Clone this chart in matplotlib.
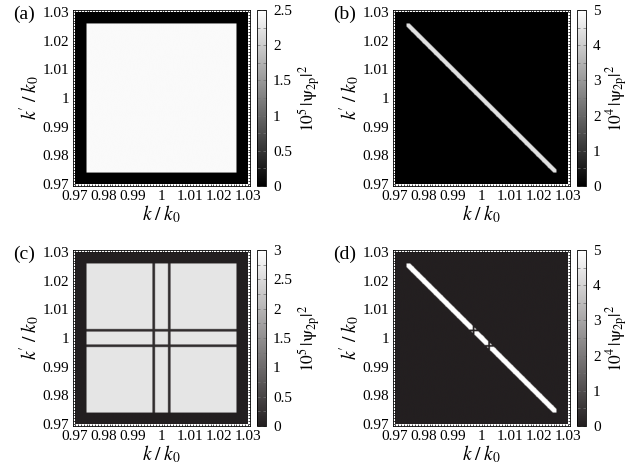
import numpy as np
import matplotlib
matplotlib.use('Agg')
import matplotlib.pyplot as plt
from matplotlib.colors import LinearSegmentedColormap
from matplotlib.ticker import MultipleLocator, FormatStrFormatter

matplotlib.rc('font', family='serif', serif=['Liberation Serif'], size=10)
matplotlib.rc('mathtext', fontset='stix')

# axis range (k / k0) and tick values
k_min, k_max = 0.97, 1.03
k_ticks = [0.97, 0.98, 0.99, 1.0, 1.01, 1.02, 1.03]
k_ticklabels = ['0.97', '0.98', '0.99', '1', '1.01', '1.02', '1.03']

# edges of the non-zero region
inner_lo, inner_hi = 0.974, 1.026
# positions of the dark cut lines in (c) and (d)
cut_pos = [0.9973, 1.0027]
cut_half_c = 0.00045
cut_half_d = 0.0003
# half widths of the diagonal bands (in k + k' - 2)
band_half_b = 0.0011
band_half_d = 0.0013

# levels
plateau_a = 2.45
plateau_c = 2.65
cut_c = 0.2
band_b = 4.4
band_d = 5.0
cut_d = 0.0

panel_names = ['(a)', '(b)', '(c)', '(d)']
vmax = [2.5, 5, 3, 5]
cb_step = [0.5, 1, 0.5, 1]
cb_exp = [5, 4, 5, 4]
cb_low = ['black', 'black', '#231f20', '#231f20']

# grid
n = 601
k = np.linspace(k_min, k_max, n)
K, KP = np.meshgrid(k, k)
inside = (K >= inner_lo) & (K <= inner_hi) & (KP >= inner_lo) & (KP <= inner_hi)


def cut_mask(half):
    m = np.zeros_like(K, dtype=bool)
    for c in cut_pos:
        m |= (np.abs(K - c) < half) | (np.abs(KP - c) < half)
    return m


cuts_c = cut_mask(cut_half_c)
cuts_d = cut_mask(cut_half_d)

data_a = np.where(inside, plateau_a, 0.0)
data_b = np.where(inside & (np.abs(K + KP - 2) < band_half_b), band_b, 0.0)
data_c = np.where(inside, np.where(cuts_c, cut_c, plateau_c), 0.0)
band = inside & (np.abs(K + KP - 2) < band_half_d)
data_d = np.where(band, np.where(cuts_d, cut_d, band_d), 0.0)
maps = [data_a, data_b, data_c, data_d]

fig = plt.figure(figsize=(6.31, 4.75), dpi=100, facecolor='w')

ax_left = [73, 393]
cb_left = [257, 577]
ax_top = [10, 250]
ax_w, ax_h = 177, 176
pad = 0.0007

for i in range(4):
    col = i % 2
    row = i // 2
    x0 = ax_left[col] / 631.0
    y0 = 1 - (ax_top[row] + ax_h) / 475.0
    ax = fig.add_axes([x0, y0, ax_w / 631.0, ax_h / 475.0])
    cax = fig.add_axes([cb_left[col] / 631.0, y0, 9 / 631.0, ax_h / 475.0])

    cmap = LinearSegmentedColormap.from_list('g%d' % i, [cb_low[i], 'white'])
    im = ax.imshow(maps[i], origin='lower', extent=[k_min, k_max, k_min, k_max],
                   cmap=cmap, vmin=0, vmax=vmax[i], interpolation='bilinear',
                   aspect='auto')
    ax.set_xlim(k_min - pad, k_max + pad)
    ax.set_ylim(k_min - pad, k_max + pad)
    ax.set_xticks(k_ticks)
    ax.set_xticklabels(k_ticklabels)
    ax.set_yticks(k_ticks)
    ax.set_yticklabels(k_ticklabels)
    ax.xaxis.set_minor_locator(MultipleLocator(0.001))
    ax.yaxis.set_minor_locator(MultipleLocator(0.001))
    ax.tick_params(which='both', direction='in', top=True, right=True,
                   length=1.6, width=0.5, pad=3, labelsize=11)
    for s in ax.spines.values():
        s.set_linewidth(0.6)
    ax.set_xlabel(r"$k\;/\;k_0$", fontsize=14, labelpad=0)
    ax.set_ylabel(r"$k^{\!\prime}\;/\;k_0$", fontsize=14, labelpad=0)

    cb = fig.colorbar(im, cax=cax)
    cb.set_ticks(np.arange(0, vmax[i] + 1e-9, cb_step[i]))
    cb.ax.yaxis.set_major_formatter(FormatStrFormatter('%g'))
    cb.ax.yaxis.set_minor_locator(MultipleLocator(cb_step[i] / 2))
    cb.ax.tick_params(which='both', direction='in', left=True, right=True,
                      length=2.5, width=0.5, color='0.45', labelsize=11, pad=5)
    cb.outline.set_linewidth(0.6)
    cb.set_label(r"$10^{%d}\,|\mathrm{\psi}_{\mathrm{2p}}|^2$" % cb_exp[i],
                 fontsize=12.5, labelpad=3)

    fig.text((ax_left[col] - 60) / 631.0, 1 - (ax_top[row] - 4) / 475.0,
             panel_names[i], fontsize=14, va='top', ha='left')

fig.savefig('out.png', dpi=100)
